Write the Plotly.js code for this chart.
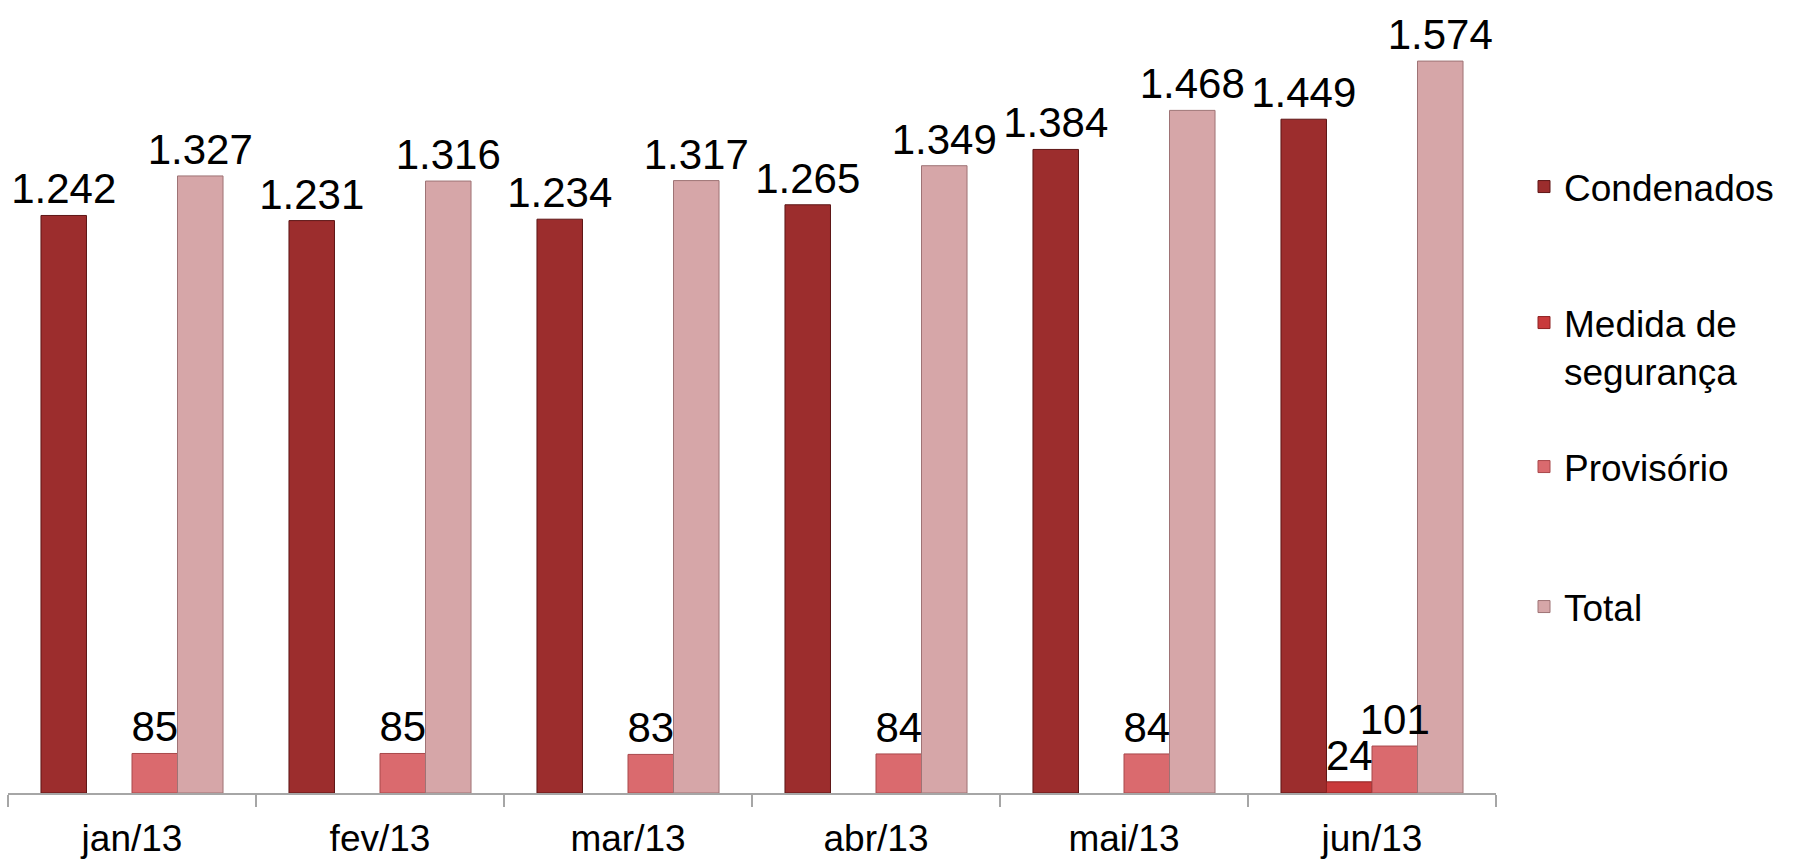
<!DOCTYPE html>
<html>
<head>
<meta charset="utf-8">
<script src="https://cdn.plot.ly/plotly-3.0.1.min.js"></script>
<style>html,body{margin:0;padding:0;background:#fff}#chart{width:1793px;height:862px}</style>
</head>
<body>
<div id="chart"></div>
<script>
const months = ["jan/13", "fev/13", "mar/13", "abr/13", "mai/13", "jun/13"];
const condenados = [1242, 1231, 1234, 1265, 1384, 1449];
const medidaSeguranca = [null, null, null, null, null, 24];
const provisorio = [85, 85, 83, 84, 84, 101];
const total = [1327, 1316, 1317, 1349, 1468, 1574];
const seriesNames = ["Condenados", "Medida de<br>segurança", "Provisório", "Total"];

const FONT = "Liberation Sans, Arial, sans-serif";
const colors = ["#9c2d2d", "#c93a3b", "#da6a6e", "#d6a6a8"];
const lineColors = ["#5e1616", "#8e2222", "#a8484b", "#9e7375"];
const seriesData = [condenados, medidaSeguranca, provisorio, total];
const legendIds = ["legend", "legend2", "legend3", "legend4"];

// visible bars (no text)
const barTraces = seriesData.map((vals, i) => ({
  type: "bar",
  x: months,
  y: vals,
  name: seriesNames[i],
  legend: legendIds[i],
  offsetgroup: "g" + i,
  marker: {color: colors[i], line: {color: lineColors[i], width: 1}},
  hoverinfo: "x+y+name"
}));

// transparent copies drawn last, carrying the value labels on top of every bar
const labelTraces = seriesData.map((vals, i) => ({
  type: "bar",
  x: months,
  y: vals,
  name: seriesNames[i],
  showlegend: false,
  offsetgroup: "g" + i,
  marker: {color: "rgba(0,0,0,0)", line: {width: 0}},
  texttemplate: "%{y:,}",
  textposition: "outside",
  constraintext: "none",
  cliponaxis: false,
  textfont: {family: FONT, size: 42, color: "#000"},
  hoverinfo: "skip"
}));

function legendAt(yPx) {
  return {
    xref: "container", yref: "container",
    x: 1524 / 1793, y: 1 - yPx / 862,
    xanchor: "left", yanchor: "middle",
    valign: "top",
    itemwidth: 30,
    bgcolor: "rgba(0,0,0,0)",
    font: {family: FONT, size: 37, color: "#000"}
  };
}

const layout = {
  width: 1793, height: 862,
  margin: {l: 8, r: 297, t: 49, b: 69},
  paper_bgcolor: "#fff", plot_bgcolor: "#fff",
  separators: ",.",
  barmode: "group",
  bargap: 0.266,
  bargroupgap: 0,
  font: {family: FONT, size: 37, color: "#000"},
  showlegend: true,
  legend: legendAt(187),
  legend2: legendAt(347),
  legend3: legendAt(467),
  legend4: legendAt(607),
  xaxis: {
    type: "category",
    showline: true, linecolor: "#a6a6a6", linewidth: 2,
    ticks: "outside", tickson: "boundaries", ticklen: 12, tickcolor: "#a6a6a6", tickwidth: 2,
    ticklabelstandoff: 12,
    tickfont: {family: FONT, size: 37, color: "#000"},
    showgrid: false, zeroline: false
  },
  yaxis: {
    range: [0, 1600],
    visible: false, showgrid: false, zeroline: false
  }
};

Plotly.newPlot("chart", barTraces.concat(labelTraces), layout, {displayModeBar: false, responsive: false});
</script>
</body>
</html>
